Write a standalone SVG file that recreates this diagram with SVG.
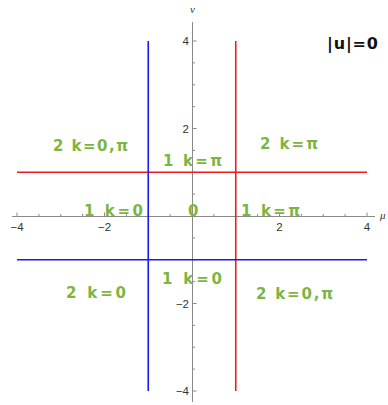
<svg xmlns="http://www.w3.org/2000/svg" width="388" height="405" viewBox="0 0 388 405">
<style>
.axis{stroke:#8a8a8a;stroke-width:1;fill:none}
.tick{stroke:#8a8a8a;stroke-width:1;fill:none}
.tl{font-family:"Liberation Sans",Arial,sans-serif;font-size:11.5px;fill:#333}
.al{font-family:"Liberation Serif",serif;font-style:italic;font-size:11px;fill:#333}
.g{font-family:"DejaVu Sans",sans-serif;font-size:15px;font-weight:bold;fill:#7db544}
.red{stroke:#ee1c1c;stroke-width:1.6;fill:none}
.blue{stroke:#1a1aee;stroke-width:1.6;fill:none}
</style>
<rect width="388" height="405" fill="#fff"/>
<g id="axes">
<path class="axis" d="M12,216.5H375M192.5,22V402"/>
<path class="tick" d="M17,216.5v-4M104.5,216.5v-4M279.5,216.5v-4M367,216.5v-4M38.9,216.5v-2.5M60.75,216.5v-2.5M82.6,216.5v-2.5M126.4,216.5v-2.5M148.25,216.5v-2.5M170.1,216.5v-2.5M213.9,216.5v-2.5M235.75,216.5v-2.5M257.6,216.5v-2.5M301.4,216.5v-2.5M323.25,216.5v-2.5M345.1,216.5v-2.5"/>
<path class="tick" d="M192.5,41h4M192.5,128.5h4M192.5,303.5h4M192.5,391h4M192.5,62.9h2.5M192.5,84.75h2.5M192.5,106.6h2.5M192.5,150.4h2.5M192.5,172.25h2.5M192.5,194.1h2.5M192.5,237.9h2.5M192.5,259.75h2.5M192.5,281.6h2.5M192.5,325.4h2.5M192.5,347.25h2.5M192.5,369.1h2.5"/>
<text class="tl" x="17" y="231" text-anchor="middle">−4</text>
<text class="tl" x="104.5" y="231" text-anchor="middle">−2</text>
<text class="tl" x="279.5" y="231" text-anchor="middle">2</text>
<text class="tl" x="367" y="231" text-anchor="middle">4</text>
<text class="tl" x="189" y="45" text-anchor="end">4</text>
<text class="tl" x="189" y="132.5" text-anchor="end">2</text>
<text class="tl" x="189" y="307.5" text-anchor="end">−2</text>
<text class="tl" x="189" y="395" text-anchor="end">−4</text>
<text class="al" x="192.5" y="13" text-anchor="middle">v</text>
<text class="al" x="380" y="219">μ</text>
</g>
<g id="connectors">
<path class="red" d="M17,172.25H367M235.75,41V391"/>
<path class="blue" d="M17,259.75H367M148.25,41V391"/>
</g>
<g id="labels">
<text class="g" x="53" y="151" textLength="75">2 k=0,π</text>
<text class="g" x="260" y="149" textLength="58">2 k=π</text>
<text class="g" x="163" y="166" textLength="59">1 k=π</text>
<text class="g" x="84" y="216" textLength="59">1 k=0</text>
<text class="g" x="188" y="216">0</text>
<text class="g" x="241" y="216" textLength="59">1 k=π</text>
<text class="g" x="162" y="284" textLength="60">1 k=0</text>
<text class="g" x="66" y="298" textLength="60">2 k=0</text>
<text class="g" x="256" y="299" textLength="77">2 k=0,π</text>
<text x="327" y="49" textLength="51" style="font-family:'DejaVu Sans',sans-serif;font-size:16px;font-weight:bold;fill:#111">|u|=0</text>
</g>
</svg>
